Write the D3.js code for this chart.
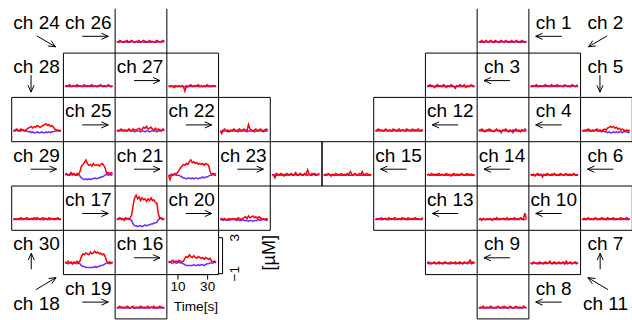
<!DOCTYPE html>
<html>
<head>
<meta charset="utf-8">
<script src="https://cdn.jsdelivr.net/npm/d3@7"></script>
<style>
  body { margin: 0; background: #fff; }
  svg { display: block; }
</style>
</head>
<body>
<div id="chart"></div>
<script>
// sample times [s]
const time = [4,5,6,7,8,9,10,11,12,13,14,15,16,17,18,19,20,21,22,23,24,25,26,27,28,29,30,31,32,33,34,35,36];

const channels = [1,2,3,4,5,6,7,8,9,10,11,12,13,14,15,16,17,18,19,20,21,22,23,24,25,26,27,28,29,30];

// grid cell [col,row] of each channel's panel and of its label
const panelCell = [[9,0],[10,1],[8,1],[9,2],[11,2],[10,3],[11,4],[9,6],[8,5],[9,4],
                   [10,5],[7,2],[7,4],[8,3],[6,3],[3,5],[2,4],[1,5],[2,6],[4,4],
                   [3,3],[4,2],[5,3],[1,1],[2,2],[2,0],[3,1],[0,2],[1,3],[0,4]];
const labelCell = [[10,0],[11,0],[9,1],[10,2],[11,1],[11,3],[11,5],[10,6],[9,5],[10,4],
                   [11,6],[8,2],[8,4],[9,3],[7,3],[2,5],[1,4],[0,6],[1,6],[3,4],
                   [2,3],[3,2],[4,3],[0,0],[1,2],[1,0],[2,1],[0,1],[0,3],[0,5]];

// concentrations [uM], one array per channel (ch 1 .. ch 30)
const redValues = [
  [.2,.1,.3,.1,.2,.3,.1,.2,.3,.2,.1,.3,.2,.1,.2,.3,.2,.1,.3,.2,.2,.1,.3,.2,.1,.3,.2,.2,.1,.3,.2,.1,.2],
  [.1,.2,.1,.2,.3,.1,.2,.1,.2,.2,.3,.1,.2,.1,.3,.2,.1,.2,.3,.1,.2,.1,.2,.3,.2,.1,.2,.1,.3,.2,.1,.2,.3],
  [.1,.2,.3,.1,.2,0,.2,.3,.1,.2,.1,.3,.2,0,.2,.1,.3,.2,.1,-.1,.2,.1,.3,.2,.1,.3,0,.2,.1,.2,.3,.1,.2],
  [.2,.1,.3,.2,0,.2,.1,.3,.2,.1,0,.2,.3,.1,.2,-.1,.2,.1,.3,.2,0,.2,.1,-.1,.2,.3,.1,.2,0,.2,.1,.3,.2],
  [.2,.1,.2,.1,.3,.2,.1,.2,.1,.2,.3,.1,.2,.1,.2,.3,.2,.4,.5,.6,.5,.6,.4,.5,.3,.4,.2,.3,.2,.1,.2,.1,.2],
  [.2,.1,.2,0,.2,.3,.1,.2,-.1,.2,.1,.3,.2,.1,.2,.2,.3,.1,.2,.1,.3,.2,.1,.2,.3,.1,.2,.2,.1,.3,.2,.1,.2],
  [.1,.2,.2,.1,.3,.1,.2,.1,.2,.3,.1,.2,.1,.3,.2,.2,.1,.3,.2,.1,.2,.3,.1,.2,.1,.2,.3,.2,.1,.2,.3,.1,.2],
  [.1,.2,.1,.3,.1,.2,.2,.1,.3,.2,.1,.2,.2,.3,.1,.2,.1,.3,.2,.2,.1,.3,.2,.1,.2,.3,.1,.2,.2,.1,.3,.2,.1],
  [.2,.3,.1,.2,.2,.3,.1,.2,.3,.2,.1,.2,.3,.2,.2,.1,.3,.2,.2,.3,.1,.2,.3,.2,.1,.3,.2,.2,.3,.5,.2,.3,.2],
  [.1,.2,0,.2,.1,.1,.2,.1,.2,0,.2,.1,.3,.1,.2,.1,.2,.2,.1,.3,.1,.2,.1,.2,.3,.1,.2,.1,.3,.2,.1,.8,.2],
  [.2,.1,.3,.2,.2,.1,.3,.2,.1,.2,.3,.2,.2,.4,.1,.2,.3,.2,.1,.3,.2,.2,.3,.1,.4,.2,.2,.3,.1,.2,.3,.2,.2],
  [.1,.2,.3,.1,.2,.1,.2,.3,.1,.2,.2,.1,.3,.2,.1,.2,.3,.1,.2,.2,.1,.3,.2,.1,.2,.3,.2,.1,.2,.3,.1,.2,.1],
  [.1,.2,.1,.2,.3,.1,.2,.2,.1,.3,.2,.1,.2,.3,.2,.1,.2,.1,.3,.2,.2,.1,.3,.2,.1,.2,.2,.3,.1,.2,.1,.2,.3],
  [.1,.2,.1,.3,.2,.1,.2,.2,.3,.1,.2,.1,.2,.3,.1,.2,0,.2,.3,.1,.2,.2,.1,.3,.2,.1,.2,.3,.1,.2,.2,.1,.2],
  [.1,.2,.1,.3,.2,0,.2,.1,.3,.2,.1,.2,.3,.1,.2,.1,.3,.2,.5,.2,.1,.3,.2,.1,.3,.2,.5,.1,.2,.3,.2,.1,.2],
  [.4,.3,.4,.5,.3,.4,.3,.5,.4,.3,.4,.7,.9,.8,1.1,.9,.8,1.0,.8,.7,.9,.8,.7,.8,.6,.8,.7,.6,.7,.4,.3,.4,.3],
  [.2,.1,.3,.1,.2,0,.3,.2,.1,.3,.6,1.7,2.5,2.8,2.4,2.6,2.2,2.5,2.3,2.4,2.1,2.4,2.2,2.5,2.2,2.3,2.0,1.9,.7,.2,.3,.1,.2],
  [.3,.2,.4,.2,.3,.1,.3,.2,.4,.2,.4,.9,1.2,1.1,1.3,1.2,1.1,1.4,1.2,1.3,1.5,1.3,1.4,1.2,1.3,1.1,1.2,.9,.4,.2,.3,.2,.3],
  [.1,.2,.3,.1,.2,.2,.1,.3,.2,.1,.2,.3,.1,.2,.2,.1,.3,.2,.2,.1,.2,.3,.1,.2,.2,.3,.1,.2,.1,.3,.2,.2,.1],
  [.1,.2,.1,.2,0,.1,.2,.1,.2,.1,.2,.1,.3,.2,.1,.2,.3,.4,.2,.5,.3,.4,.5,.3,.4,.2,.4,.3,.1,.2,.1,.2,.1],
  [.1,-.4,.2,.1,.3,.2,.4,.6,.9,1.1,1.3,1.2,1.4,1.3,1.6,1.8,1.5,1.6,1.4,1.5,1.3,1.4,1.3,1.4,1.2,1.4,1.3,1.2,.5,.2,.3,.2,.3],
  [.1,-.2,.2,.3,.1,.2,0,.2,.1,.3,.2,.1,.2,.3,.1,.2,.3,.2,.1,.8,.3,.2,.1,.2,.3,.1,.2,.3,.2,.1,.2,.3,.2],
  [.2,.1,-.2,.3,.2,.1,.3,.2,0,.2,.3,.1,.2,.3,.1,.2,.4,.1,.2,.3,.2,.1,.3,.2,.7,.2,.1,.3,.2,.3,.1,.2,.3],
  [.2,.1,.2,.3,.1,.2,.2,.1,.3,.2,.2,.1,.2,.3,.2,.1,.2,.2,.3,.1,.2,.1,.2,.2,.3,.1,.2,.2,.1,.3,.2,.1,.2],
  [.2,.1,.2,.3,.1,.2,.2,.1,.3,.2,.1,.3,.2,.2,.3,.4,.2,.3,.5,.4,.6,.3,.4,.5,.3,.2,.4,.2,.3,.2,.1,.3,.2],
  [.2,.1,.3,.2,.1,.2,.2,.3,.1,.2,.3,.2,.1,.2,.2,.3,.1,.2,.3,.2,.2,.1,.3,.2,.2,.1,.2,.3,.2,.1,.2,.3,.2],
  [.2,.1,.2,.1,0,.2,.1,.2,.1,.2,.1,-.4,.2,.1,.2,.3,.1,.2,.1,.2,.3,.1,.2,.1,.2,.1,.3,.2,.1,.2,.1,.2,.1],
  [.2,.1,.3,.2,.1,.3,.2,.2,.1,.3,.4,.5,.6,.4,.6,.5,.7,.6,.5,.6,.7,.8,.9,.7,.8,.6,.7,.5,.3,.2,.2,.1,.2],
  [.2,.3,.1,.2,.4,.2,.3,.1,.3,.2,.5,1.1,1.3,1.5,1.8,1.4,1.2,1.3,1.1,1.4,1.2,1.2,1.3,1.1,1.3,1.4,1.2,.9,.3,.4,.2,.4,.3],
  [.1,.2,.1,.2,.1,.3,.2,.1,.2,.3,.2,.1,.2,.2,.3,.2,.3,.2,.1,.2,.3,.2,.2,.1,.3,.2,.2,.1,.2,.2,.3,.1,.2]
];
const blueValues = [
  [.1,.2,.1,.1,.1,.2,.1,.1,.2,.1,.1,.1,.2,.1,.1,.1,.2,.1,.2,.1,.1,.2,.1,.1,.1,.2,.1,.1,.2,.1,.1,.2,.1],
  [.1,.1,.2,.1,.1,.1,.1,.2,.1,.1,.1,.2,.1,.1,.1,.1,.2,.1,.1,.1,.2,.1,.1,.1,.2,.1,.1,.1,.1,.2,.1,.1,.1],
  [.1,.1,.1,.2,.1,.1,.1,.1,.2,.1,.1,.1,.1,.1,.2,.1,.1,.1,.1,.1,.2,.1,.1,.1,.1,.2,.1,.1,.1,.1,.2,.1,.1],
  [.1,.2,.1,.1,.1,.1,.2,.1,.1,.1,.1,.1,.2,.1,.1,.1,.1,.2,.1,.1,.1,.1,.1,.2,.1,.1,.1,.1,.1,.2,.1,.1,.1],
  [.1,.1,.1,.2,.1,.1,.1,.1,.1,.2,.1,.1,.1,0,.1,0,0,-.1,0,-.1,-.1,0,-.1,0,-.1,0,0,-.1,0,0,0,-.1,0],
  [.2,.1,.1,.1,.2,.1,.1,.2,.1,.1,.1,.1,.2,.1,.1,.1,.2,.1,.1,.1,.1,.2,.1,.1,.2,.1,.1,.1,.1,.2,.1,.1,.1],
  [.1,.1,.1,.1,.2,.1,.1,.1,.1,.2,.1,.1,.1,.2,.1,.1,.1,.1,.1,.2,.1,.1,.1,.1,.2,.1,.1,.1,.2,.1,.1,.1,.2],
  [.1,.1,.2,.1,.1,.1,.1,.2,.1,.1,.1,.1,.1,.2,.1,.1,.2,.1,.1,.1,.1,.2,.1,.1,.1,.1,.2,.1,.1,.1,.1,.2,.1],
  [.2,.1,.2,.1,.2,.2,.1,.2,.1,.2,.2,.1,.2,.2,.1,.2,.1,.2,.2,.1,.2,.2,.1,.2,.1,.2,.2,.1,.2,.2,.1,.2,.2],
  [.1,.1,.1,.2,.1,.1,.1,.1,.1,.1,.1,.2,.1,.1,.1,.1,.2,.1,.1,.1,.1,.1,.2,.1,.1,.1,.1,.1,.2,.1,.1,.1,.1],
  [.2,.1,.2,.2,.1,.2,.1,.2,.2,.1,.2,.1,.2,.2,.2,.1,.2,.1,.2,.2,.1,.2,.2,.1,.2,.1,.2,.2,.1,.2,.2,.1,.2],
  [.1,.1,.1,.2,.1,.1,.1,.2,.1,.1,.1,.1,.1,.2,.1,.1,.1,.1,.2,.1,.1,.1,.2,.1,.1,.1,.1,.2,.1,.1,.1,.1,.2],
  [.1,.1,.2,.1,.1,.1,.2,.1,.1,.1,.1,.2,.1,.1,.1,.1,.2,.1,.1,.2,.1,.1,.1,.1,.2,.1,.1,.1,.2,.1,.1,.1,.1],
  [.1,.2,.1,.1,.1,.2,.1,.1,.1,.1,.2,.1,.1,.1,.2,.1,.1,.1,.1,.2,.1,.1,.1,.2,.1,.1,.1,.1,.2,.1,.1,.1,.1],
  [.1,.1,.1,.2,.1,.1,.1,.1,.1,.1,.2,.1,.1,.1,.1,.2,.1,.1,.1,.1,.1,.2,.1,.1,.1,.1,.1,.2,.1,.1,.1,.1,.1],
  [.2,.3,.2,.2,.3,.2,.2,.3,.2,.2,.1,0,-.1,-.1,-.1,-.1,-.1,0,-.1,-.1,0,-.1,0,0,-.1,0,.1,.1,.2,.2,.2,.3,.2],
  [.2,.1,.2,.2,.1,.2,.1,.2,.2,.1,0,-.4,-.6,-.6,-.7,-.6,-.6,-.7,-.6,-.5,-.6,-.5,-.5,-.4,-.4,-.3,-.3,-.2,.1,.2,.2,.1,.2],
  [.2,.2,.1,.2,.2,.1,.2,.2,.1,.2,.1,-.1,-.2,-.2,-.3,-.3,-.3,-.3,-.3,-.3,-.2,-.3,-.2,-.2,-.1,-.1,0,.1,.2,.2,.1,.2,.2],
  [.1,.1,.1,.2,.1,.1,.2,.1,.1,.1,.2,.1,.1,.1,.1,.2,.1,.1,.1,.2,.1,.1,.1,.2,.1,.1,.1,.1,.2,.1,.1,.1,.1],
  [.1,.1,0,.1,.1,.1,0,.1,.1,.1,.1,0,.1,0,0,.1,0,0,0,-.1,0,0,-.1,0,0,0,.1,0,.1,.1,.1,0,.1],
  [.1,.1,.2,.1,.2,.1,.1,.1,0,-.1,-.2,-.2,-.3,-.2,-.2,-.3,-.2,-.3,-.2,-.2,-.3,-.2,-.2,-.1,-.2,-.1,-.1,0,.1,.1,.2,.1,.1],
  [.1,.1,.1,.1,.1,0,.1,.1,.1,.1,.1,.1,0,.1,.1,.1,.1,.1,0,.1,.1,.1,.1,0,.1,.1,.1,.1,.1,0,.1,.1,.1],
  [.2,.1,.2,.1,.1,.2,.1,.1,.2,.1,.1,.2,.1,.2,.1,.1,.2,.1,.1,.2,.1,.1,.2,.1,.1,.2,.1,.1,.2,.1,.1,.2,.1],
  [.1,.2,.1,.1,.1,.1,.2,.1,.1,.1,.2,.1,.1,.1,.1,.2,.1,.1,.1,.1,.2,.1,.1,.1,.2,.1,.1,.1,.1,.2,.1,.1,.1],
  [.1,.1,.1,.2,.1,.1,.1,.1,.2,.1,.1,.1,0,.1,.1,.1,0,.1,.1,0,.1,.1,0,.1,.1,.1,.1,0,.1,.1,.1,.2,.1],
  [.2,.1,.1,.2,.1,.1,.2,.1,.1,.1,.2,.1,.1,.2,.1,.1,.1,.2,.1,.1,.1,.2,.1,.1,.2,.1,.1,.1,.2,.1,.1,.2,.1],
  [.1,.1,.1,.1,.2,.1,.1,.1,.1,.1,.1,.1,0,.1,.1,.1,.1,.1,.2,.1,.1,.1,.1,.1,.1,.1,.1,.1,.1,.1,.2,.1,.1],
  [.1,.1,.2,.1,.1,.1,.2,.1,.1,.1,0,0,-.1,0,-.1,-.1,0,-.1,-.1,0,-.1,-.1,0,-.1,0,-.1,0,0,.1,.1,.1,.1,.1],
  [.1,.2,.1,.1,.2,.1,.2,.1,.1,.2,0,-.2,-.3,-.4,-.3,-.4,-.3,-.4,-.3,-.3,-.2,-.3,-.2,-.2,-.1,-.1,0,.1,.2,.1,.2,.1,.2],
  [.1,.1,.1,.1,.2,.1,.1,.1,.2,.1,.1,.1,.2,.1,.1,.1,.1,.2,.1,.1,.1,.1,.2,.1,.1,.1,.2,.1,.1,.1,.2,.1,.1]
];

const timeTicks = [10, 30];
const concTicks = [-1, 3];
const axisChannel = 16;

const redColor = "#ff0000";
const blueColor = "#6a2bff";
const font = "'Liberation Sans', Arial, Helvetica, sans-serif";

const width = 632, height = 320;
const svg = d3.select("#chart").append("svg").attr("width", width).attr("height", height);

// page grid: 12 columns x 7 rows
const colScale = d3.scaleLinear().domain([0, 12]).range([11.7, 632.3]);
const rowScale = d3.scaleLinear().domain([0, 7]).range([8.8, 318.9]);
const cellW = colScale(1) - colScale(0);
const cellH = rowScale(1) - rowScale(0);

const panelX = x0 => d3.scaleLinear().domain([2.86, 37.7]).range([x0, x0 + cellW]);
const panelY = y0 => d3.scaleLinear().domain([-1.1, 3.82]).range([y0 + cellH, y0]);

const traces = svg.append("g").attr("fill", "none");
const boxes = svg.append("g").attr("fill", "none").attr("stroke", "#000").attr("stroke-width", 1);
const labels = svg.append("g");

const drawArrow = (g, x1, y1, x2, y2) => {
  const a = Math.atan2(y2 - y1, x2 - x1), len = 7.5, spread = 0.42;
  const p = d3.path();
  p.moveTo(x1, y1);
  p.lineTo(x2, y2);
  p.moveTo(x2 - len * Math.cos(a - spread), y2 - len * Math.sin(a - spread));
  p.lineTo(x2, y2);
  p.lineTo(x2 - len * Math.cos(a + spread), y2 - len * Math.sin(a + spread));
  g.append("path").attr("d", p.toString())
    .attr("fill", "none").attr("stroke", "#000").attr("stroke-width", 1);
};

channels.forEach((ch, i) => {
  const [pc, pr] = panelCell[i];
  const x0 = colScale(pc), y0 = rowScale(pr);
  const x = panelX(x0), y = panelY(y0);

  const line = d3.line().x((d, j) => x(time[j])).y(d => y(d));

  traces.append("path").datum(blueValues[i]).attr("d", line)
    .attr("stroke", blueColor).attr("stroke-width", 1.5);
  traces.append("path").datum(redValues[i]).attr("d", line)
    .attr("stroke", redColor).attr("stroke-width", 1.5);

  // panel frame (top row has no top edge)
  const b = d3.path();
  b.moveTo(x0, y0);
  b.lineTo(x0, y0 + cellH);
  b.lineTo(x0 + cellW, y0 + cellH);
  b.lineTo(x0 + cellW, y0);
  if (pr > 0) b.closePath();
  boxes.append("path").attr("d", b.toString());

  // label with arrow pointing at the panel
  const [lc, lr] = labelCell[i];
  const dx = pc - lc, dy = pr - lr;
  const cx = colScale(lc) + cellW / 2, ty = rowScale(lr);
  const textBelow = dy < 0 && dx !== 0;

  labels.append("text")
    .attr("x", cx - 1)
    .attr("y", textBelow ? ty + 35 : ty + 20)
    .attr("text-anchor", "middle")
    .attr("font-family", font)
    .attr("font-size", 19)
    .text("ch " + ch);

  if (dy === 0) {
    drawArrow(labels, cx - 7 * dx, ty + 27.5, cx + 19 * dx, ty + 27.5);
  } else if (dx === 0 && dy > 0) {
    drawArrow(labels, cx - 6.5, ty + 22, cx - 6.5, ty + 39);
  } else if (dx === 0) {
    drawArrow(labels, cx - 6.3, ty + 39, cx - 6.3, ty + 23);
  } else if (dy > 0) {
    drawArrow(labels, cx - 0.8 * dx, ty + 27, cx + 18 * dx, ty + 38);
  } else {
    drawArrow(labels, cx - 1.5 * dx, ty + 15, cx + 18.5 * dx, ty + 3);
  }
});

// scale bars on the ch 16 panel
const ai = channels.indexOf(axisChannel);
const ax0 = colScale(panelCell[ai][0]), ay0 = rowScale(panelCell[ai][1]);
const axX = panelX(ax0), axY = panelY(ay0);

svg.append("g")
  .attr("transform", `translate(0,${ay0 + cellH})`)
  .call(d3.axisBottom(axX).tickValues(timeTicks).tickSize(5).tickPadding(2))
  .call(g => g.select(".domain").attr("d", `M${axX(timeTicks[0])},0H${axX(timeTicks[1])}`))
  .call(g => g.selectAll("text").attr("font-family", font).attr("font-size", 13.5).attr("fill", "#000"));

svg.append("text")
  .attr("x", 196).attr("y", ay0 + cellH + 36)
  .attr("text-anchor", "middle")
  .attr("font-family", font).attr("font-size", 13.7)
  .text("Time[s]");

const yAxisX = ax0 + cellW + 4;
const yAxis = svg.append("g").attr("stroke", "#000").attr("stroke-width", 1);
yAxis.append("line")
  .attr("x1", yAxisX).attr("x2", yAxisX)
  .attr("y1", axY(concTicks[1])).attr("y2", axY(concTicks[0]));
yAxis.selectAll(".tick").data(concTicks).join("line")
  .attr("x1", yAxisX - 4).attr("x2", yAxisX)
  .attr("y1", d => axY(d)).attr("y2", d => axY(d));

svg.selectAll(".ytl").data(concTicks).join("text")
  .attr("class", "ytl")
  .attr("transform", d => `translate(${yAxisX + 16},${axY(d)}) rotate(-90)`)
  .attr("text-anchor", "middle")
  .attr("font-family", font).attr("font-size", 13.5)
  .text(d => d < 0 ? "\u2212" + Math.abs(d) : d);

svg.append("text")
  .attr("transform", `translate(${yAxisX + 52},${(axY(concTicks[0]) + axY(concTicks[1])) / 2 - 3}) rotate(-90)`)
  .attr("text-anchor", "middle")
  .attr("font-family", font).attr("font-size", 18)
  .text("[\u00b5M]");
</script>
</body>
</html>
